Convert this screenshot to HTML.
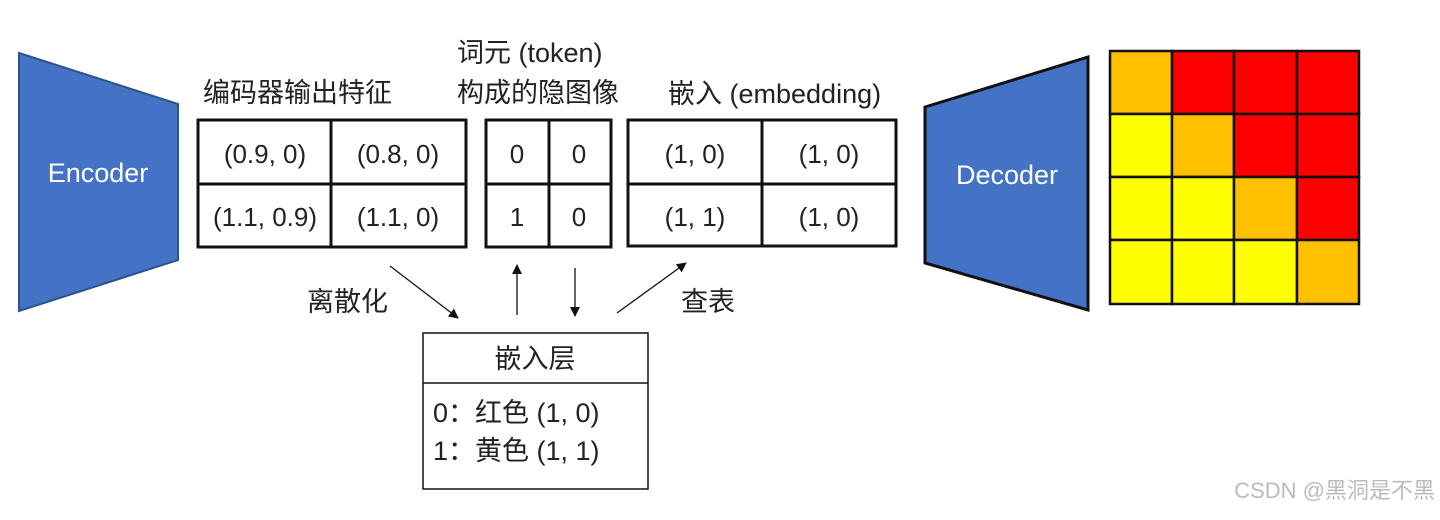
<!DOCTYPE html>
<html><head><meta charset="utf-8"><style>
body{margin:0;background:#fff;}
svg text{font-family:"Liberation Sans","Noto Sans CJK SC",sans-serif;fill:#222;}
</style></head><body>
<svg width="1440" height="515" viewBox="0 0 1440 515" xmlns="http://www.w3.org/2000/svg">
<defs><marker id="a" markerWidth="10" markerHeight="10" refX="9" refY="5" orient="auto" markerUnits="userSpaceOnUse"><path d="M0,0 L10,5 L0,10 z" fill="#111"/></marker></defs>
<polygon points="19,53 178,104 178,260 19,311" fill="#4472c4" stroke="#2f528f" stroke-width="2"/>
<text x="98" y="182" font-size="27" text-anchor="middle" style="fill:#fff">Encoder</text>
<polygon points="925,107 1088,57 1088,310 925,263" fill="#4472c4" stroke="#111" stroke-width="3"/>
<text x="1007" y="184" font-size="27" text-anchor="middle" style="fill:#fff">Decoder</text>
<g stroke="#111" stroke-width="2.5">
<rect x="1110" y="51" width="62" height="63" fill="#ffc000"/><rect x="1172" y="51" width="62" height="63" fill="#ff0000"/><rect x="1234" y="51" width="63" height="63" fill="#ff0000"/><rect x="1297" y="51" width="62" height="63" fill="#ff0000"/>
<rect x="1110" y="114" width="62" height="63" fill="#ffff00"/><rect x="1172" y="114" width="62" height="63" fill="#ffc000"/><rect x="1234" y="114" width="63" height="63" fill="#ff0000"/><rect x="1297" y="114" width="62" height="63" fill="#ff0000"/>
<rect x="1110" y="177" width="62" height="63" fill="#ffff00"/><rect x="1172" y="177" width="62" height="63" fill="#ffff00"/><rect x="1234" y="177" width="63" height="63" fill="#ffc000"/><rect x="1297" y="177" width="62" height="63" fill="#ff0000"/>
<rect x="1110" y="240" width="62" height="64" fill="#ffff00"/><rect x="1172" y="240" width="62" height="64" fill="#ffff00"/><rect x="1234" y="240" width="63" height="64" fill="#ffff00"/><rect x="1297" y="240" width="62" height="64" fill="#ffc000"/>
</g>
<g fill="none" stroke="#111" stroke-width="3">
<rect x="198" y="120" width="268" height="127"/><line x1="331" y1="120" x2="331" y2="247"/><line x1="198" y1="184" x2="466" y2="184"/>
<rect x="486" y="120" width="125" height="127"/><line x1="549" y1="120" x2="549" y2="247"/><line x1="486" y1="184" x2="611" y2="184"/>
<rect x="628" y="120" width="268" height="126"/><line x1="762" y1="120" x2="762" y2="246"/><line x1="628" y1="184" x2="896" y2="184"/>
</g>
<g font-size="26" text-anchor="middle">
<text x="265" y="163">(0.9, 0)</text><text x="398" y="163">(0.8, 0)</text>
<text x="265" y="226">(1.1, 0.9)</text><text x="398" y="226">(1.1, 0)</text>
<text x="517" y="163">0</text><text x="579" y="163">0</text>
<text x="517" y="226">1</text><text x="579" y="226">0</text>
<text x="695" y="163">(1, 0)</text><text x="829" y="163">(1, 0)</text>
<text x="695" y="226">(1, 1)</text><text x="829" y="226">(1, 0)</text>
</g>
<g font-size="27">
<text x="203" y="102">编码器输出特征</text>
<text x="457" y="62">词元 (token)</text>
<text x="457" y="102">构成的隐图像</text>
<text x="668" y="103">嵌入 (embedding)</text>
<text x="307" y="311">离散化</text>
<text x="681" y="311">查表</text>
</g>
<g stroke="#111" stroke-width="1.3" marker-end="url(#a)">
<line x1="390" y1="266" x2="458" y2="318"/>
<line x1="517" y1="315" x2="517" y2="265"/>
<line x1="575" y1="268" x2="575" y2="316"/>
<line x1="617" y1="313" x2="686" y2="263"/>
</g>
<rect x="423" y="333" width="225" height="156" fill="none" stroke="#111" stroke-width="1.5"/>
<line x1="423" y1="383" x2="648" y2="383" stroke="#111" stroke-width="1.5"/>
<text x="535" y="368" font-size="27" text-anchor="middle">嵌入层</text>
<text x="433" y="422" font-size="27">0：红色 (1, 0)</text>
<text x="433" y="460" font-size="27">1：黄色 (1, 1)</text>
<text x="1435" y="498" font-size="22" text-anchor="end" style="fill:#bbb">CSDN @黑洞是不黑</text>
</svg>
</body></html>
